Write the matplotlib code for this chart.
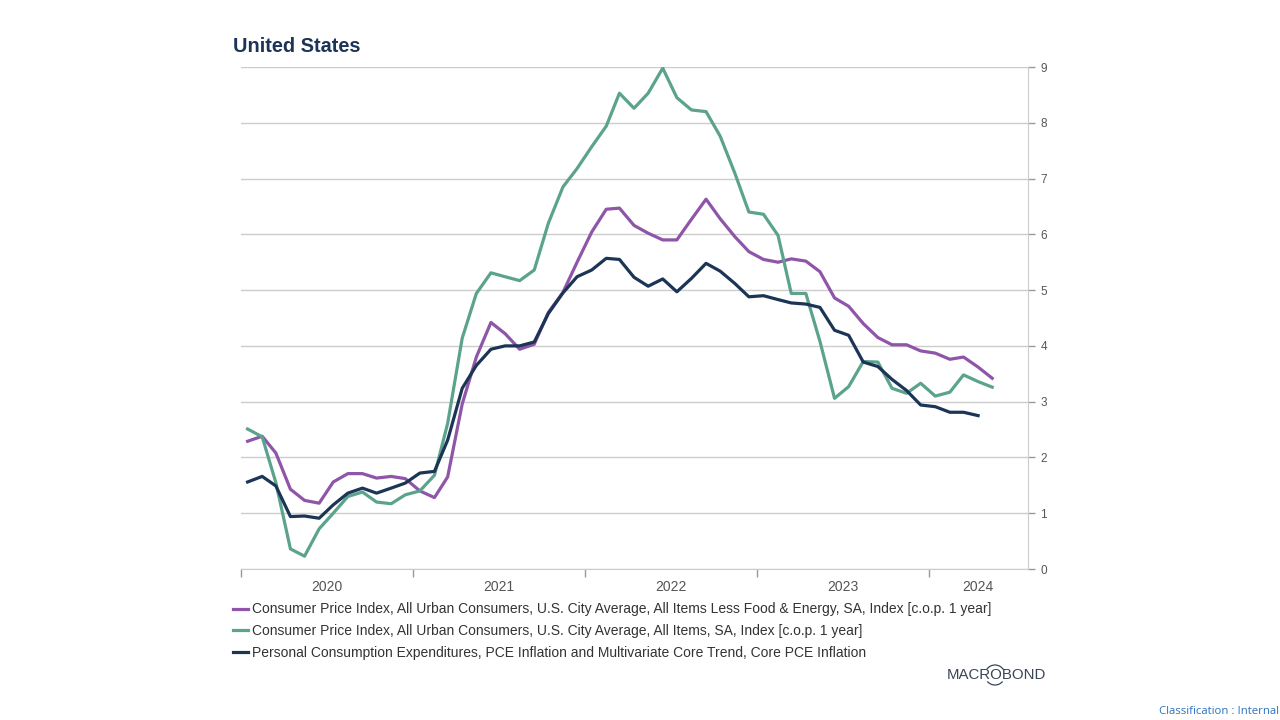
import matplotlib
matplotlib.use("Agg")
import matplotlib.pyplot as plt
from matplotlib.patches import Arc
import pandas as pd

plt.rcParams['font.family'] = ['Liberation Sans', 'DejaVu Sans']

# Monthly data, Jan 2020 onward (y/y % change)
core_cpi = [2.29, 2.38, 2.08, 1.43, 1.23, 1.18, 1.56, 1.71, 1.71, 1.63, 1.66, 1.62,
            1.40, 1.28, 1.65, 2.96, 3.80, 4.42, 4.22, 3.94, 4.03, 4.60, 4.96, 5.50,
            6.04, 6.45, 6.47, 6.16, 6.02, 5.90, 5.90, 6.27, 6.63, 6.28, 5.96, 5.69,
            5.55, 5.50, 5.56, 5.52, 5.33, 4.86, 4.71, 4.40, 4.15, 4.02, 4.02, 3.91,
            3.87, 3.76, 3.80, 3.62, 3.42]
headline_cpi = [2.51, 2.37, 1.55, 0.36, 0.23, 0.72, 1.00, 1.30, 1.38, 1.20, 1.17, 1.33,
                1.40, 1.68, 2.61, 4.14, 4.94, 5.31, 5.24, 5.17, 5.36, 6.20, 6.85, 7.18,
                7.57, 7.94, 8.53, 8.26, 8.53, 8.98, 8.45, 8.23, 8.20, 7.76, 7.10, 6.40,
                6.36, 5.98, 4.94, 4.94, 4.08, 3.06, 3.27, 3.72, 3.71, 3.24, 3.15, 3.33,
                3.10, 3.17, 3.48, 3.36, 3.26]
core_pce = [1.56, 1.66, 1.49, 0.94, 0.95, 0.91, 1.15, 1.36, 1.45, 1.36, 1.45, 1.54,
            1.72, 1.75, 2.31, 3.24, 3.65, 3.94, 4.00, 4.00, 4.07, 4.58, 4.95, 5.24,
            5.36, 5.57, 5.55, 5.23, 5.07, 5.20, 4.97, 5.21, 5.48, 5.34, 5.12, 4.88,
            4.90, 4.83, 4.77, 4.75, 4.69, 4.28, 4.19, 3.71, 3.63, 3.40, 3.20, 2.94,
            2.91, 2.81, 2.81, 2.75]

labels = [
    "Consumer Price Index, All Urban Consumers, U.S. City Average, All Items Less Food & Energy, SA, Index [c.o.p. 1 year]",
    "Consumer Price Index, All Urban Consumers, U.S. City Average, All Items, SA, Index [c.o.p. 1 year]",
    "Personal Consumption Expenditures, PCE Inflation and Multivariate Core Trend, Core PCE Inflation",
]
colors = ["#8e55a8", "#5ba38c", "#1c3456"]
year_labels = ["2020", "2021", "2022", "2023", "2024"]

def mid_month(n):
    starts = pd.date_range("2020-01-01", periods=n, freq="MS")
    return starts + pd.Timedelta(days=14)

W, H = 1280, 720
fig = plt.figure(figsize=(12.8, 7.2), dpi=100)
L, R, T, B = 241, 1028, 67, 569
ax = fig.add_axes([L / W, 1 - B / H, (R - L) / W, (B - T) / H])

for vals, c, lab in zip([core_cpi, headline_cpi, core_pce], colors, labels):
    ax.plot(mid_month(len(vals)), vals, color=c, lw=2.3, label=lab)

x0 = pd.Timestamp("2020-01-01")
x1 = pd.Timestamp("2024-07-30")
ax.set_xlim(x0, x1)
ax.set_ylim(0, 9)

ax.yaxis.tick_right()
ax.set_yticks(range(0, 10))
ax.grid(axis='y', color='#cccccc', lw=1)
ax.set_axisbelow(True)
for s in ['left', 'top']:
    ax.spines[s].set_visible(False)
ax.spines['right'].set_color('#cccccc')
ax.spines['bottom'].set_color('#cccccc')
ax.tick_params(axis='y', length=5, width=1, color='#999999', pad=4, labelsize=8.5, labelcolor='#555555')

year_starts = [pd.Timestamp(f"{y}-01-01") for y in year_labels]
ax.set_xticks(year_starts)
ax.xaxis.set_major_formatter(plt.NullFormatter())
ax.tick_params(axis='x', which='major', length=6, width=1, color='#999999')
centers = []
for i, ys in enumerate(year_starts):
    end = year_starts[i + 1] if i + 1 < len(year_starts) else x1
    centers.append(ys + (end - ys) / 2)
ax.set_xticks(centers, minor=True)
ax.set_xticklabels(year_labels, minor=True)
ax.tick_params(axis='x', which='minor', length=0, pad=8, labelsize=10, labelcolor='#555555')

fig.text(233 / W, 1 - 47 / H, "United States", fontsize=14.3, fontweight='bold',
         color='#1c3456', va='center', ha='left')

leg = fig.legend(loc='upper left', bbox_to_anchor=(233 / W, 1 - 602.5 / H), frameon=False,
                 fontsize=10.0, handlelength=1.1, handletextpad=0.3, labelspacing=0.55,
                 borderaxespad=0, borderpad=0)
for t in leg.get_texts():
    t.set_color('#333333')
for h in leg.get_lines():
    h.set_linewidth(2.3)

# overlay in pixel coordinates for the logo ring
ov = fig.add_axes([0, 0, 1, 1])
ov.set_xlim(0, W)
ov.set_ylim(H, 0)
ov.axis('off')
fig.text(996 / W, 1 - 675 / H, "MACROBOND", fontsize=10.8, color='#3a4658',
         ha='center', va='center')
ov.add_patch(Arc((995, 675), 20, 20, theta1=215, theta2=330, color='#3a4658', lw=0.9))
ov.add_patch(Arc((995, 675), 20, 20, theta1=40, theta2=140, color='#3a4658', lw=0.9))

fig.text(1279 / W, 1 - 712 / H, "Classification : Internal", fontsize=8.2,
         color='#2a72c0', ha='right', va='center', family=['Open Sans', 'DejaVu Sans'])

fig.savefig("out.png", dpi=100)
